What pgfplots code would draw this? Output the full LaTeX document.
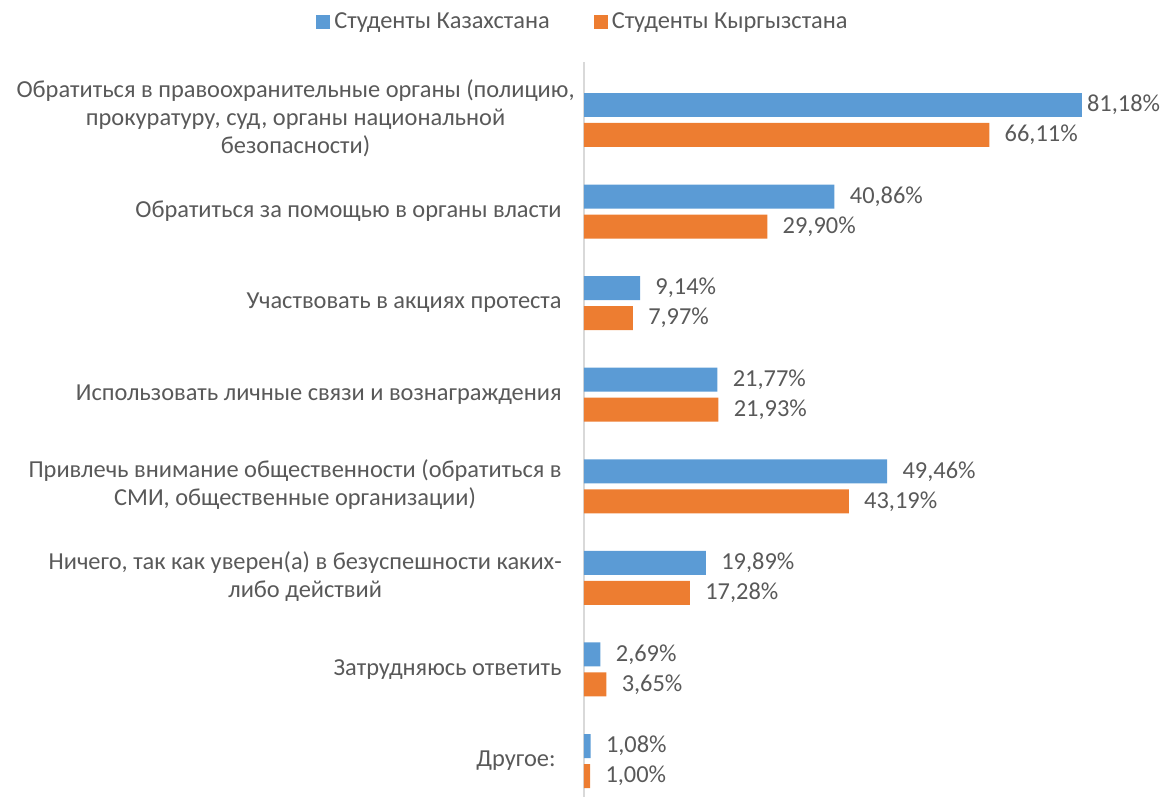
\documentclass[border=0pt]{standalone}
\usepackage{fontspec}
\setmainfont{Carlito}
\usepackage{pgfplots}
\pgfplotsset{compat=1.18}
\usetikzlibrary{calc}

\definecolor{kzblue}{HTML}{5B9BD5}
\definecolor{kgorange}{HTML}{ED7D31}
\definecolor{labelgray}{HTML}{595959}
\definecolor{axisgray}{HTML}{D9D9D9}

\newcommand{\lbl}[1]{\begin{tabular}{@{}c@{}}#1\end{tabular}}
\newcommand{\fs}{\fontsize{12.2pt}{14pt}\selectfont}

\begin{document}
\fs
\begin{tikzpicture}
\begin{axis}[
    name=ax,
    xbar,
    scale only axis,
    width=282pt,
    height=367.5pt,
    xmin=0, xmax=92,
    ymin=-0.633, ymax=7.393,
    y dir=reverse,
    bar width=12pt,
    axis x line=none,
    axis y line*=left,
    axis line style={draw=axisgray, line width=0.8pt, -},
    ytick={0,1,2,3,4,5,6,7},
    yticklabels={
      {\lbl{Обратиться в правоохранительные органы (полицию,\\прокуратуру, суд, органы национальной\\безопасности)}\hspace*{-6.5pt}},
      {Обратиться за помощью в органы власти},
      {Участвовать в акциях протеста},
      {Использовать личные связи и вознаграждения},
      {\lbl{Привлечь внимание общественности (обратиться в\\СМИ, общественные организации)}},
      {\lbl{Ничего, так как уверен(а) в безуспешности каких-\\либо действий}},
      {Затрудняюсь ответить},
      {Другое:\hspace*{3pt}}
    },
    major tick length=0pt,
    yticklabel style={font=\fs, text=labelgray, inner sep=0pt, xshift=-11pt},
    nodes near coords={\pgfmathprintnumber[fixed,fixed zerofill,precision=2,use comma,assume math mode=true]{\pgfplotspointmeta}\%},
    nodes near coords style={font=\fs, text=labelgray, anchor=west, inner sep=0pt, xshift=7.5pt},
    point meta=explicit,
    legend columns=2,
    legend style={draw=none, fill=none, at={(0,1)}, anchor=center, yshift=20pt,
      font=\fs, text=labelgray,
      /tikz/every even column/.append style={column sep=20pt},
      inner sep=0pt, cells={anchor=west, inner xsep=1.5pt}},
    legend image code/.code={\fill[#1] (0pt,-3.5pt) rectangle (7pt,3.5pt);},
    clip=false,
]
% first category of the Kazakhstan series, label kept close to the bar end
\addplot[fill=kzblue, draw=none, bar shift=7.5pt, forget plot,
    nodes near coords style={xshift=-5pt}] coordinates {
    (81.18,0) [81.18]
};
\addplot[fill=kzblue, draw=none, bar shift=7.5pt] coordinates {
    (40.86,1) [40.86]
    (9.14,2)  [9.14]
    (21.77,3) [21.77]
    (49.46,4) [49.46]
    (19.89,5) [19.89]
    (2.69,6)  [2.69]
    (1.08,7)  [1.08]
};
\addlegendentry{Студенты Казахстана}
\addplot[fill=kgorange, draw=none, bar shift=-7.5pt] coordinates {
    (66.11,0) [66.11]
    (29.90,1) [29.90]
    (7.97,2)  [7.97]
    (21.93,3) [21.93]
    (43.19,4) [43.19]
    (17.28,5) [17.28]
    (3.65,6)  [3.65]
    (1.00,7)  [1.00]
};
\addlegendentry{Студенты Кыргызстана}
\end{axis}
\pgfresetboundingbox
\path[use as bounding box] ($(ax.south west)+(-292pt,-0.5pt)$) rectangle ($(ax.north east)+(6pt,31pt)$);
\end{tikzpicture}
\end{document}
